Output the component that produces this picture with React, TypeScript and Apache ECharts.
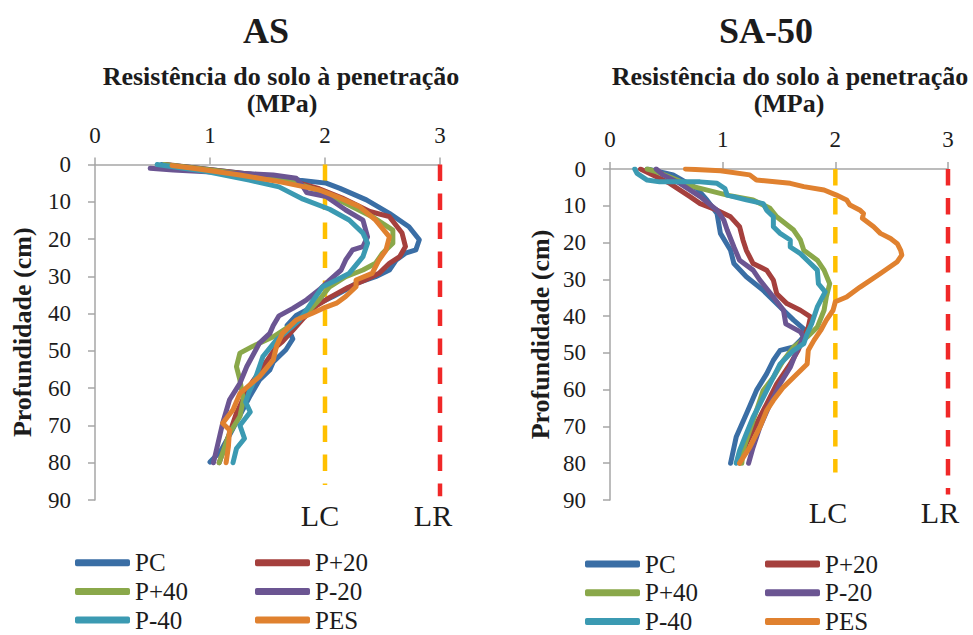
import { useEffect, useRef } from "react";
import * as echarts from "echarts";

type Pt = [number, number];

const SERIES_NAMES = ["PC", "P+20", "P+40", "P-20", "P-40", "PES"];
const SERIES_COLORS = ["#3A6EA5", "#A5403D", "#8AA84A", "#6B5592", "#3B9AB2", "#E0812F"];
const X_TICKS = [0, 1, 2, 3];
const DEPTH_TICKS = [0, 10, 20, 30, 40, 50, 60, 70, 80, 90];

// Panel AS: [resistance (MPa), depth (cm)]
const asPC: Pt[] = [[0.58,0],[0.9,1.0],[1.3,2.4],[1.6,3.3],[1.78,4.2],[2.01,5.0],[2.13,6.4],[2.36,9.5],[2.56,13.1],[2.73,16.7],[2.82,20.2],[2.79,22.9],[2.70,23.8],[2.62,25.6],[2.56,28.3],[2.44,30.1],[2.27,31.9],[2.18,33.6],[2.07,35.4],[1.95,37.2],[1.84,39.0],[1.75,40.5],[1.67,43.2],[1.72,46.8],[1.66,49.7],[1.55,53],[1.52,55.1],[1.43,57.8],[1.35,62],[1.26,67.3],[1.17,72.6],[1.09,77],[1.0,79.8]];
const asP20: Pt[] = [[0.62,0],[0.95,1.2],[1.35,2.6],[1.7,4.3],[1.95,6.5],[2.15,9],[2.39,12.6],[2.56,14.0],[2.67,18.4],[2.70,22.0],[2.65,24.7],[2.56,26.5],[2.47,29.2],[2.35,31],[2.2,33],[2.05,35.5],[1.92,38],[1.82,41],[1.72,44.5],[1.63,47.5],[1.58,48.8],[1.46,54.2],[1.34,59.6],[1.23,66.7],[1.17,72.1],[1.08,80]];
const asP40: Pt[] = [[0.6,0],[0.95,1.3],[1.35,2.8],[1.7,4.6],[1.95,7],[2.15,10],[2.41,14.0],[2.59,17.6],[2.59,21.1],[2.50,23.8],[2.44,26.5],[2.33,28.3],[2.18,30.1],[2.04,32.8],[1.95,36.3],[1.84,39.9],[1.7,43.2],[1.55,46.2],[1.37,48.8],[1.26,50.6],[1.23,54.2],[1.26,57.8],[1.29,63.1],[1.26,67.6],[1.17,72.1],[1.08,80]];
const asN20: Pt[] = [[0.48,1.0],[0.68,1.5],[1.26,2.4],[1.55,2.8],[1.75,3.7],[1.80,5.5],[1.84,7.5],[2.01,8.6],[2.18,12.2],[2.33,14.9],[2.37,19.4],[2.33,22.0],[2.24,22.9],[2.18,25.6],[2.14,28.3],[2.04,31.0],[1.95,33.6],[1.84,36.3],[1.72,38.6],[1.60,40.6],[1.55,43.2],[1.52,45.3],[1.43,47.9],[1.32,54.2],[1.26,58.7],[1.17,63.1],[1.11,69.4],[1.03,80]];
const asN40: Pt[] = [[0.54,0],[0.97,1.9],[1.34,4.2],[1.60,6.0],[1.81,9.3],[2.04,12.0],[2.21,14.9],[2.33,18.4],[2.37,21.1],[2.33,24.7],[2.21,29.2],[2.10,31.0],[1.98,32.8],[1.92,35.4],[1.84,39],[1.78,41.7],[1.66,45.0],[1.58,47],[1.46,51.5],[1.40,56.9],[1.34,61],[1.31,63.7],[1.35,66.4],[1.26,70],[1.30,73.5],[1.23,76.2],[1.20,80]];
const asPES: Pt[] = [[0.67,0.3],[0.9,1.2],[1.26,2.8],[1.60,4.6],[1.95,6.8],[2.10,8.6],[2.30,11.3],[2.44,14.9],[2.56,19.4],[2.53,23.0],[2.47,25.6],[2.41,29.2],[2.27,31.0],[2.27,32.8],[2.18,35.4],[2.10,37.2],[1.98,38.6],[1.89,39.9],[1.75,41.7],[1.63,45.3],[1.58,48.6],[1.55,52.4],[1.43,56.9],[1.26,61.4],[1.20,65.8],[1.11,69.4],[1.17,71.2],[1.16,75.7],[1.14,80]];

// Panel SA-50
const saPC: Pt[] = [[0.33,0],[0.56,1.6],[0.77,5.3],[0.86,8.4],[0.95,12.1],[0.98,17.5],[1.07,22.1],[1.10,25.7],[1.21,29.3],[1.36,33],[1.51,37.5],[1.63,41.1],[1.75,44.3],[1.69,46.6],[1.63,48.4],[1.51,49.3],[1.45,52],[1.39,55.7],[1.30,60.2],[1.21,66.6],[1.12,72.9],[1.07,80]];
const saP20: Pt[] = [[0.27,0],[0.38,1.6],[0.53,3.9],[0.71,7.5],[0.80,9.4],[0.95,11.2],[1.07,13],[1.15,15.7],[1.18,19.3],[1.21,22.1],[1.27,25.7],[1.39,27.5],[1.45,30.2],[1.48,33.9],[1.57,36.6],[1.69,38.4],[1.78,40.2],[1.76,43],[1.72,45.7],[1.67,49.3],[1.60,53],[1.48,58.4],[1.39,63.9],[1.30,69.3],[1.21,74.7],[1.15,80]];
const saP40: Pt[] = [[0.33,0],[0.41,0.7],[0.74,4.8],[1.04,7.1],[1.27,8.4],[1.42,10.7],[1.48,13],[1.63,16.6],[1.69,19.3],[1.72,22.1],[1.84,24.8],[1.90,27.5],[1.95,31.2],[1.92,34.8],[1.90,38.4],[1.84,43],[1.75,45.7],[1.63,48.4],[1.54,52],[1.45,56.6],[1.36,60.2],[1.30,65.7],[1.24,71.1],[1.18,76.6],[1.17,80]];
const saN20: Pt[] = [[0.41,0],[0.47,1.6],[0.62,3.9],[0.80,7.5],[0.95,11.2],[1.01,13.9],[1.04,16.6],[1.10,21.2],[1.15,24.8],[1.27,27.5],[1.33,30.2],[1.45,34.8],[1.54,38.4],[1.56,42.1],[1.69,44.3],[1.72,45.7],[1.66,49.3],[1.60,53.9],[1.51,58.4],[1.42,63.9],[1.33,70.2],[1.27,75.7],[1.23,80]];
const saN40: Pt[] = [[0.22,0],[0.24,1.2],[0.33,3],[0.44,3.5],[0.80,3.5],[0.95,3.9],[1.02,5.3],[1.04,7.1],[1.21,8.4],[1.36,9.4],[1.39,11.2],[1.45,13],[1.45,15.7],[1.51,17.5],[1.60,19.3],[1.60,21.2],[1.69,23],[1.75,24.8],[1.84,27.5],[1.85,31.2],[1.91,33.4],[1.84,37.5],[1.79,42.1],[1.75,44.8],[1.72,47.5],[1.63,49.3],[1.51,53],[1.42,58.4],[1.33,63.9],[1.27,67.5],[1.21,72],[1.15,76.6],[1.12,80]];
const saPES: Pt[] = [[0.67,0],[0.98,0.5],[1.24,1.6],[1.30,3],[1.60,3.9],[1.72,4.8],[1.90,5.7],[2.01,7.1],[2.10,8.4],[2.13,9.8],[2.22,11.2],[2.25,12.1],[2.24,13.4],[2.34,15.7],[2.40,17.5],[2.49,18.9],[2.55,20.3],[2.58,22.1],[2.59,23.4],[2.55,25.2],[2.40,28.4],[2.22,32.1],[2.10,34.8],[2.00,36.1],[1.98,38.4],[1.92,41.1],[1.87,43.9],[1.81,46.6],[1.76,49.3],[1.75,53],[1.63,56.6],[1.54,59.3],[1.45,62.9],[1.39,65.7],[1.33,70.2],[1.24,75.7],[1.15,80]];

// Limit lines: LC (critical) = 2 MPa, LR (restrictive) = 3 MPa
const LIMIT_VALUES = [2, 3];
const LIMIT_LABELS = ["LC", "LR"];
const LIMIT_COLORS = ["#FFC000", "#F02828"];
const AS_LIMIT_END = [86, 89];
const SA_LIMIT_END = [82.5, 88.5];

const SERIF = "Liberation Serif";
const AXIS_GRAY = "#A6A6A6";
const TXT = "#1c1c1c";

export default function App() {
  const ref = useRef<HTMLDivElement>(null);

  useEffect(() => {
    if (!ref.current) return;
    const chart = echarts.init(ref.current, undefined, { renderer: "svg" });

    const panels = [
      { data: [asPC, asP20, asP40, asN20, asN40, asPES], ends: AS_LIMIT_END },
      { data: [saPC, saP20, saP40, saN20, saN40, saPES], ends: SA_LIMIT_END },
    ];

    const grids = [
      { left: 95, top: 164.5, width: 345, height: 335.5 },
      { left: 610, top: 169, width: 338, height: 331 },
    ];

    const labelStyle = { fontFamily: SERIF, fontSize: 23, color: TXT, fontWeight: "normal" };

    const xAxes = grids.map((_, i) => ({
      type: "value",
      gridIndex: i,
      position: "top",
      min: X_TICKS[0],
      max: X_TICKS[X_TICKS.length - 1],
      interval: 1,
      axisLine: { show: true, onZero: false, lineStyle: { color: AXIS_GRAY, width: 1.5 } },
      axisTick: { show: true, length: 7, lineStyle: { color: AXIS_GRAY, width: 1.5 } },
      axisLabel: { ...labelStyle, margin: 18 },
      splitLine: { show: false },
    }));

    const yAxes = grids.map((_, i) => ({
      type: "value",
      gridIndex: i,
      inverse: true,
      min: DEPTH_TICKS[0],
      max: DEPTH_TICKS[DEPTH_TICKS.length - 1],
      interval: 10,
      name: "Profundidade (cm)",
      nameLocation: "middle",
      nameGap: i === 0 ? 60 : 57,
      nameTextStyle: { fontFamily: SERIF, fontWeight: "bold", fontSize: 26, color: TXT },
      axisLine: { show: true, onZero: false, lineStyle: { color: AXIS_GRAY, width: 1.5 } },
      axisTick: { show: true, length: 7, lineStyle: { color: AXIS_GRAY, width: 1.5 } },
      axisLabel: { ...labelStyle, margin: 24 },
      splitLine: { show: false },
    }));

    const series: any[] = [];
    panels.forEach((p, gi) => {
      LIMIT_VALUES.forEach((v, li) => {
        series.push({
          type: "line",
          name: LIMIT_LABELS[li] + gi,
          xAxisIndex: gi,
          yAxisIndex: gi,
          data: [[v, 0], [v, p.ends[li]]],
          symbol: "none",
          silent: true,
          lineStyle: { color: LIMIT_COLORS[li], width: 4.5, type: [16.5, 12.5], cap: "butt" },
          z: 1,
        });
      });
      p.data.forEach((d, si) => {
        series.push({
          type: "line",
          name: SERIES_NAMES[si],
          xAxisIndex: gi,
          yAxisIndex: gi,
          data: d,
          symbol: "none",
          showSymbol: false,
          color: SERIES_COLORS[si],
          lineStyle: { color: SERIES_COLORS[si], width: 5, cap: "round", join: "round" },
          z: 2,
        });
      });
    });

    const legendBase = {
      orient: "vertical",
      itemWidth: 55,
      itemHeight: 7,
      itemGap: 3.7,
      height: 100,
      icon: "roundRect",
      selectedMode: false,
      padding: 0,
      textStyle: { fontFamily: SERIF, fontSize: 25, color: TXT, lineHeight: 25 },
    };
    const col1 = [SERIES_NAMES[0], SERIES_NAMES[2], SERIES_NAMES[4]];
    const col2 = [SERIES_NAMES[1], SERIES_NAMES[3], SERIES_NAMES[5]];
    const legends = [
      { ...legendBase, left: 75, top: 550.2, data: col1 },
      { ...legendBase, left: 255, top: 550.2, data: col2 },
      { ...legendBase, left: 585, top: 551.5, data: col1 },
      { ...legendBase, left: 765, top: 551.5, data: col2 },
    ];

    const txt = (text: string, x: number, y: number, size: number, bold: boolean) => ({
      type: "text",
      x,
      y,
      style: {
        text,
        fontFamily: SERIF,
        fontSize: size,
        fontWeight: bold ? "bold" : "normal",
        fill: TXT,
        align: "center",
        verticalAlign: "middle",
      },
    });

    const graphic = [
      txt("AS", 266, 31, 36, true),
      txt("SA-50", 766, 31, 36, true),
      txt("Resistência do solo à penetração", 281, 76, 26, true),
      txt("(MPa)", 282, 103, 26, true),
      txt("Resistência do solo à penetração", 790, 76, 26, true),
      txt("(MPa)", 789, 103, 26, true),
      txt(LIMIT_LABELS[0], 320, 515, 30, false),
      txt(LIMIT_LABELS[1], 433, 515, 30, false),
      txt(LIMIT_LABELS[0], 828, 512, 30, false),
      txt(LIMIT_LABELS[1], 940, 512, 30, false),
    ];

    chart.setOption({
      animation: false,
      backgroundColor: "#ffffff",
      textStyle: { fontFamily: SERIF },
      grid: grids,
      xAxis: xAxes,
      yAxis: yAxes,
      legend: legends,
      series,
      graphic,
    });

    return () => chart.dispose();
  }, []);

  return <div ref={ref} style={{ width: 973, height: 635, position: "absolute", left: 0, top: 0 }} />;
}
